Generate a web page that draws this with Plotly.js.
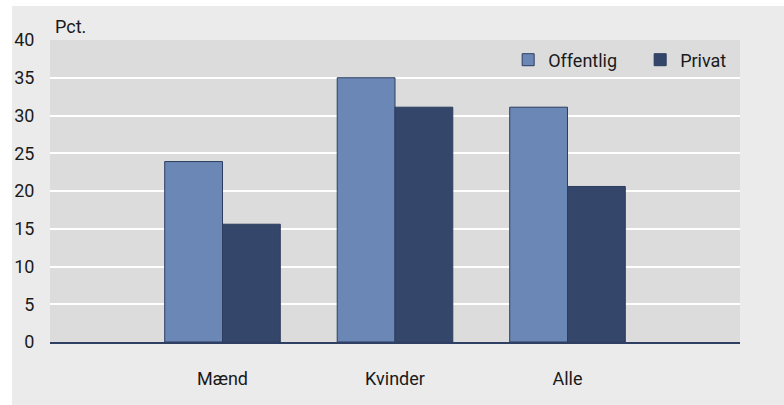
<!DOCTYPE html>
<html>
<head>
<meta charset="utf-8">
<script src="https://cdn.plot.ly/plotly-3.0.1.min.js"></script>
<style>
  html, body { margin: 0; padding: 0; background: #ffffff; }
  #chart { position: absolute; left: 12px; top: 6px; width: 772px; height: 399px; }
</style>
</head>
<body>
<div id="chart"></div>
<script>
const categories = ["Mænd", "Kvinder", "Alle"];
const offentlig = [23.9, 35.0, 31.1];
const privat = [15.6, 31.1, 20.6];
const yTicks = [0, 5, 10, 15, 20, 25, 30, 35, 40];
const seriesNames = ["Offentlig", "Privat"];

const font = "Roboto, 'Liberation Sans', Arial, sans-serif";

const traces = [
  {
    type: "bar", name: seriesNames[0], x: categories, y: offentlig,
    marker: { color: "#6b87b5", line: { color: "#2c3d5f", width: 1 } }
  },
  {
    type: "bar", name: seriesNames[1], x: categories, y: privat,
    marker: { color: "#34476a", line: { color: "#2c3d5f", width: 1 } }
  }
];

const layout = {
  width: 772, height: 399,
  margin: { l: 38, r: 44, t: 34, b: 63, pad: 0, autoexpand: false },
  paper_bgcolor: "#ebebeb",
  plot_bgcolor: "#dcdcdc",
  barmode: "group",
  bargap: 0.33,
  bargroupgap: 0,
  font: { family: font, size: 18, color: "#1a1a1a" },
  showlegend: true,
  legend: {
    orientation: "h",
    x: 0.664, xanchor: "left",
    y: 0.995, yanchor: "top",
    bgcolor: "rgba(0,0,0,0)",
    font: { family: font, size: 18, color: "#1a1a1a" },
    itemwidth: 30,
    entrywidth: 87,
    traceorder: "normal"
  },
  xaxis: {
    type: "category",
    range: [-1, 3],
    showgrid: false,
    showline: true, linecolor: "#2f3f63", linewidth: 2,
    ticks: "outside", ticklen: 19, tickcolor: "rgba(0,0,0,0)",
    tickfont: { family: font, size: 18, color: "#1a1a1a" },
    zeroline: false, fixedrange: true
  },
  yaxis: {
    range: [0, 40],
    tickvals: yTicks,
    ticktext: yTicks.map(String),
    showgrid: true, gridcolor: "#ffffff", gridwidth: 2,
    zeroline: false, showline: false,
    ticks: "outside", ticklen: 11, tickcolor: "rgba(0,0,0,0)",
    tickfont: { family: font, size: 18, color: "#1a1a1a" },
    fixedrange: true
  },
  shapes: [
    {
      type: "rect", layer: "above",
      xref: "paper", yref: "y",
      x0: 0.655, x1: 0.994, y0: 35.1, y1: 40.2,
      fillcolor: "#dcdcdc", line: { width: 0 }
    }
  ],
  annotations: [
    {
      text: "Pct.", xref: "paper", yref: "paper",
      x: 0.005, y: 1, xanchor: "left", yanchor: "bottom",
      yshift: 1, showarrow: false,
      font: { family: font, size: 18, color: "#1a1a1a" }
    }
  ]
};

Plotly.newPlot("chart", traces, layout, { displayModeBar: false, staticPlot: true });
</script>
</body>
</html>
